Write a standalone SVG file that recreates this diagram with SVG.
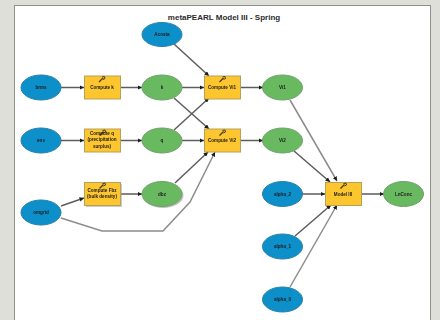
<svg xmlns="http://www.w3.org/2000/svg" width="440" height="320" viewBox="0 0 440 320">
<defs>
<marker id="a" viewBox="0 0 6 6" refX="6" refY="3" markerWidth="4.500" markerHeight="4.500" markerUnits="userSpaceOnUse" orient="auto"><path d="M0 0L6 3L0 6z" fill="#1a1a1a"/></marker>
<filter id="b" x="-10%" y="-10%" width="120%" height="120%"><feGaussianBlur stdDeviation="0.4"/></filter>
<g id="w"><path d="M-2.500 2.500L1.500 -1.500" fill="none" stroke="#4a3a18" stroke-width="1.200"/><path d="M0.500 -2.500L3 -3L3.500 -1L1.500 0" fill="none" stroke="#4a3a18" stroke-width="1"/></g>
</defs>
<style>
text{font-family:"Liberation Sans",Arial,sans-serif;font-size:4.600px;font-weight:bold;fill:#1c1c1c;text-anchor:middle}
.t{font-size:8px;fill:#2c2c2c}
.i{fill:#0b90c9;stroke:#2a7ea8;stroke-width:1}
.o{fill:#67b95f;stroke:#6f9f6a;stroke-width:1}
.p{fill:#fdc52e;stroke:#b5a25a;stroke-width:1}
.c{fill:none;stroke:#5c5c5c;stroke-width:1.500;marker-end:url(#a)}
.l{stroke:#8c8c8c}
</style>
<rect width="440" height="320" fill="#dedfd8"/>
<rect x="14.500" y="5.500" width="416" height="320" fill="#fff" stroke="#8f9088" stroke-width="1"/>
<text class="t" x="224" y="20">metaPEARL Model III - Spring</text>
<g id="connectors" filter="url(#b)">
<path class="c" d="M61 87.500H84"/>
<path class="c" d="M120 87.500H142"/>
<path class="c" d="M182 87.500H204"/>
<path class="c" d="M241 87.500H263"/>
<path class="c" d="M61 140.500H84"/>
<path class="c" d="M120 140.500H142"/>
<path class="c" d="M182 140.500H204"/>
<path class="c" d="M241 140.500H263"/>
<path class="c" d="M174 44L209 76"/>
<path class="c" d="M174 98L209 129"/>
<path class="c" d="M174 130L209 98"/>
<path class="c" d="M175 183L208 152"/>
<path class="c" d="M61 206L84 198"/>
<path class="c" d="M120 194H142"/>
<path class="c l" d="M61 218L102 231H163L190 202L215 152"/>
<path class="c l" d="M290 100L337 181"/>
<path class="c" d="M294 151L330 182"/>
<path class="c" d="M302 194H325"/>
<path class="c" d="M295 236L331 205"/>
<path class="c l" d="M290 287L337 205"/>
<path class="c" d="M362 194H384"/>
</g>
<g id="n-acosta" filter="url(#b)"><ellipse class="i" cx="162" cy="34.500" rx="20" ry="12"/><text x="162" y="36">Acosta</text></g>
<g id="n-brms" filter="url(#b)"><ellipse class="i" cx="41" cy="87.500" rx="20" ry="12.500"/><text x="41" y="89">brms</text></g>
<g id="n-ens" filter="url(#b)"><ellipse class="i" cx="41" cy="140.500" rx="20" ry="12.500"/><text x="41" y="142">ens</text></g>
<g id="n-omgrid" filter="url(#b)"><ellipse class="i" cx="41" cy="212.500" rx="20" ry="12.500"/><text x="41" y="214">omgrid</text></g>
<g id="n-computek" filter="url(#b)"><rect class="p" x="84.500" y="76" width="36" height="23"/><use href="#w" x="101.500" y="79.500"/><text x="102" y="89">Compute k</text></g>
<g id="n-computeq" filter="url(#b)"><rect class="p" x="84.500" y="129" width="36" height="23"/><use href="#w" x="102" y="133"/><text x="102" y="135">Compute q</text><text x="102" y="141">(precipitation</text><text x="102" y="147.500">surplus)</text></g>
<g id="n-computefilter" filter="url(#b)"><rect x="86" y="184" width="36" height="23" fill="#999" opacity=".5"/><rect class="p" x="84.500" y="182.500" width="36" height="23"/><use href="#w" x="102" y="186"/><text x="102" y="192">Compute Fbz</text><text x="102" y="198">(bulk density)</text></g>
<g id="n-k" filter="url(#b)"><ellipse class="o" cx="162" cy="87.500" rx="20" ry="12.500"/><text x="162" y="89">k</text></g>
<g id="n-q" filter="url(#b)"><ellipse class="o" cx="162" cy="140.500" rx="20" ry="12.500"/><text x="162" y="142">q</text></g>
<g id="n-dbz" filter="url(#b)"><ellipse cx="163" cy="195.500" rx="20.500" ry="12.500" fill="#999" opacity=".6"/><ellipse class="o" cx="162" cy="194" rx="20" ry="12.500"/><text x="162" y="195.500">dbz</text></g>
<g id="n-computevi" filter="url(#b)"><rect class="p" x="204.500" y="76" width="36" height="23"/><use href="#w" x="222" y="79.500"/><text x="222" y="89">Compute Vi1</text></g>
<g id="n-computevii" filter="url(#b)"><rect class="p" x="204.500" y="129" width="36" height="23"/><use href="#w" x="222" y="133"/><text x="222" y="142">Compute Vi2</text></g>
<g id="n-vi1" filter="url(#b)"><ellipse class="o" cx="282.500" cy="87.500" rx="20" ry="12.500"/><text x="282.500" y="89">Vi1</text></g>
<g id="n-vi2" filter="url(#b)"><ellipse class="o" cx="282.500" cy="140.500" rx="20" ry="12.500"/><text x="282.500" y="142">Vi2</text></g>
<g id="n-alpha2" filter="url(#b)"><ellipse class="i" cx="282.500" cy="194" rx="20" ry="12.500"/><text x="282.500" y="195.500">alpha_2</text></g>
<g id="n-alpha1" filter="url(#b)"><ellipse class="i" cx="282.500" cy="246.500" rx="20" ry="12.500"/><text x="282.500" y="248">alpha_1</text></g>
<g id="n-alpha0" filter="url(#b)"><ellipse class="i" cx="282.500" cy="299.500" rx="20" ry="12.500"/><text x="282.500" y="301">alpha_0</text></g>
<g id="n-model3" filter="url(#b)"><rect class="p" x="325.500" y="182.500" width="36" height="23"/><use href="#w" x="343" y="186"/><text x="343" y="195.500">Model III</text></g>
<g id="n-lnconc" filter="url(#b)"><ellipse class="o" cx="403.500" cy="194" rx="20" ry="12.500"/><text x="403.500" y="195.500">LnConc</text></g>
</svg>
